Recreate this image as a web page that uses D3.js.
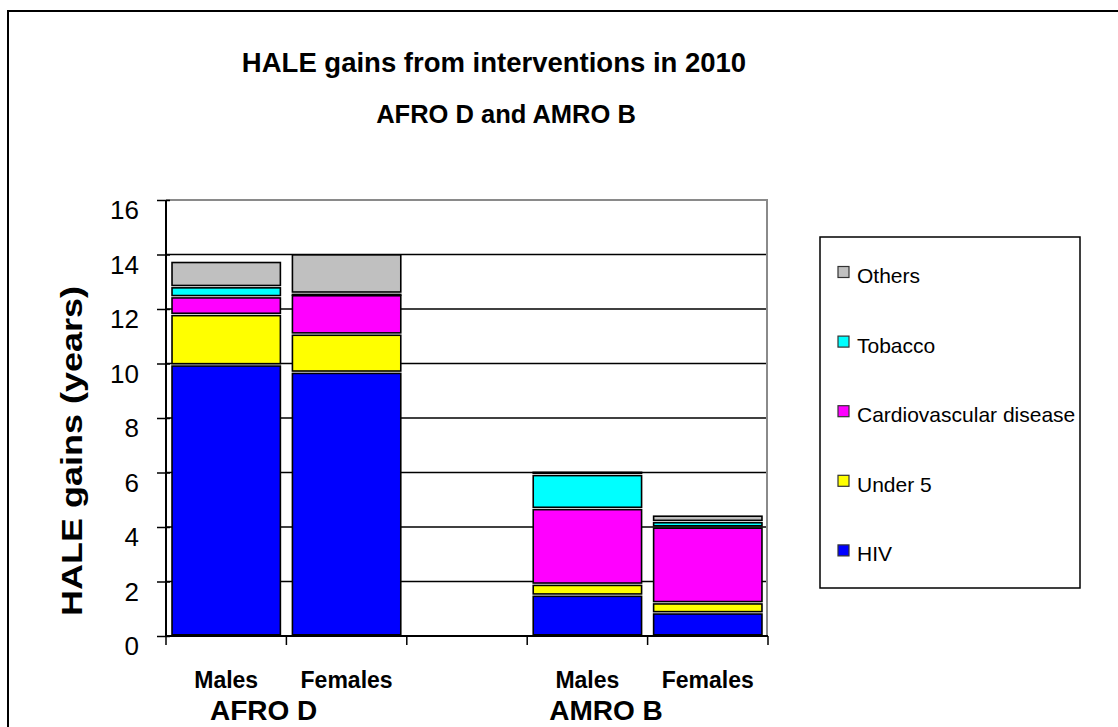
<!DOCTYPE html>
<html>
<head>
<meta charset="utf-8">
<script src="https://cdn.jsdelivr.net/npm/d3@7"></script>
<style>
  body { margin: 0; background: #fff; }
  svg { display: block; font-family: "Liberation Sans", Arial, sans-serif; }
</style>
</head>
<body>
<svg id="chart" width="1118" height="727"></svg>
<script>
// data
const categories = ["Males", "Females", "", "Males", "Females"];
const groups = ["AFRO D", "", "", "AMRO B", ""];
const seriesNames = ["HIV", "Under 5", "Cardiovascular disease", "Tobacco", "Others"];
const hiv     = [9.95, 9.68, 0, 1.50, 0.85];
const under5  = [1.85, 1.40, 0, 0.40, 0.37];
const cvd     = [0.65, 1.45, 0, 2.78, 2.78];
const tobacco = [0.37, 0.05, 0, 1.25, 0.20];
const others  = [0.93, 1.45, 0, 0.12, 0.24];
const yTicks = [0, 2, 4, 6, 8, 10, 12, 14, 16];

const colors = ["#0000ff", "#ffff00", "#ff00ff", "#00ffff", "#c0c0c0"];
const groupLabelDx = [44, 0, 0, 22, 0];

const svg = d3.select('#chart');

// outer frame
svg.append('rect')
  .attr('x', 8).attr('y', 11)
  .attr('width', 1130).attr('height', 740)
  .attr('fill', 'none').attr('stroke', '#000').attr('stroke-width', 2);

const x = d3.scaleBand().domain(d3.range(categories.length)).range([166, 768]);
const y = d3.scaleLinear().domain([0, 16]).range([636, 200]);

// grid
svg.append('g').selectAll('line')
  .data(yTicks.filter(t => t > 0 && t < 16))
  .enter().append('line')
  .attr('x1', 166).attr('x2', 768)
  .attr('y1', d => y(d)).attr('y2', d => y(d))
  .attr('stroke', '#000').attr('stroke-width', 1.5);

// plot area border (top/right, gray)
svg.append('path')
  .attr('d', `M166,${y(16)}H767V${y(0)}`)
  .attr('fill', 'none').attr('stroke', '#8a8a8a').attr('stroke-width', 2);

// stacked bars
const table = categories.map((c, i) => ({
  i: i, HIV: hiv[i], 'Under 5': under5[i], 'Cardiovascular disease': cvd[i],
  Tobacco: tobacco[i], Others: others[i]
}));
const stacked = d3.stack().keys(seriesNames)(table);
const barW = x.bandwidth() * 0.9;

svg.append('g').selectAll('g')
  .data(stacked)
  .enter().append('g')
  .attr('fill', (d, k) => colors[k])
  .selectAll('rect')
  .data(d => d.filter(s => s[1] - s[0] > 0))
  .enter().append('rect')
  .attr('x', d => x(d.data.i) + (x.bandwidth() - barW) / 2)
  .attr('width', barW)
  .attr('y', d => y(d[1]) + 1.2)
  .attr('height', d => Math.max(0.5, y(d[0]) - y(d[1]) - 2.4))
  .attr('stroke', '#000').attr('stroke-width', 1.6);

// y axis
const yAxis = svg.append('g')
  .attr('transform', 'translate(170,0)')
  .call(d3.axisLeft(y).tickValues(yTicks).tickSizeInner(13).tickSizeOuter(0).tickPadding(18));
yAxis.select('.domain').remove();
yAxis.selectAll('line').attr('stroke', '#000').attr('stroke-width', 1.5);
yAxis.selectAll('text')
  .attr('dy', '0.72em')
  .style('font-size', '26px').attr('fill', '#000')
  .style('font-family', '"Liberation Sans", Arial, sans-serif');

svg.append('line')
  .attr('x1', 166).attr('x2', 166).attr('y1', y(16)).attr('y2', y(0))
  .attr('stroke', '#000').attr('stroke-width', 2);
svg.append('line')
  .attr('x1', 166).attr('x2', 768).attr('y1', y(0)).attr('y2', y(0))
  .attr('stroke', '#000').attr('stroke-width', 2);

// x ticks at band edges
svg.append('g').selectAll('line')
  .data(d3.range(categories.length + 1))
  .enter().append('line')
  .attr('x1', i => x.range()[0] + i * x.step())
  .attr('x2', i => x.range()[0] + i * x.step())
  .attr('y1', y(0)).attr('y2', y(0) + 9)
  .attr('stroke', '#000').attr('stroke-width', 1.5);

svg.append('g').selectAll('text')
  .data(categories.map((c, i) => ({ c, i })).filter(d => d.c))
  .enter().append('text')
  .attr('x', d => x(d.i) + x.bandwidth() / 2)
  .attr('y', 688)
  .attr('text-anchor', 'middle')
  .style('font-size', '23px').style('font-weight', 'bold')
  .text(d => d.c);

svg.append('g').selectAll('text')
  .data(groups.map((g, i) => ({ g, i })).filter(d => d.g))
  .enter().append('text')
  .attr('x', d => x(d.i) + groupLabelDx[d.i])
  .attr('y', 720)
  .style('font-size', '28px').style('font-weight', 'bold')
  .text(d => d.g);

// titles
svg.append('text')
  .attr('x', 494).attr('y', 72)
  .attr('text-anchor', 'middle')
  .style('font-size', '27.5px').style('font-weight', 'bold')
  .text('HALE gains from interventions in 2010');
svg.append('text')
  .attr('x', 506).attr('y', 123)
  .attr('text-anchor', 'middle')
  .style('font-size', '25.5px').style('font-weight', 'bold')
  .text('AFRO D and AMRO B');

svg.append('text')
  .attr('transform', 'translate(82,451) rotate(-90)')
  .attr('text-anchor', 'middle')
  .attr('textLength', 330).attr('lengthAdjust', 'spacingAndGlyphs')
  .style('font-size', '30px').style('font-weight', 'bold')
  .text('HALE gains (years)');

// legend
const legend = svg.append('g');
legend.append('rect')
  .attr('x', 820).attr('y', 237).attr('width', 260).attr('height', 351)
  .attr('fill', '#fff').attr('stroke', '#000').attr('stroke-width', 1.5);

const legendItems = seriesNames.map((s, k) => ({ s, k })).reverse();
const item = legend.selectAll('g.item')
  .data(legendItems)
  .enter().append('g')
  .attr('class', 'item')
  .attr('transform', (d, j) => `translate(0,${283 + j * 69.6})`);
item.append('rect')
  .attr('x', 838).attr('y', -16.5).attr('width', 11).attr('height', 11)
  .attr('fill', d => colors[d.k]).attr('stroke', '#333').attr('stroke-width', 1.2);
item.append('text')
  .attr('x', 857).attr('y', 0)
  .style('font-size', '21px')
  .text(d => d.s);
</script>
</body>
</html>
